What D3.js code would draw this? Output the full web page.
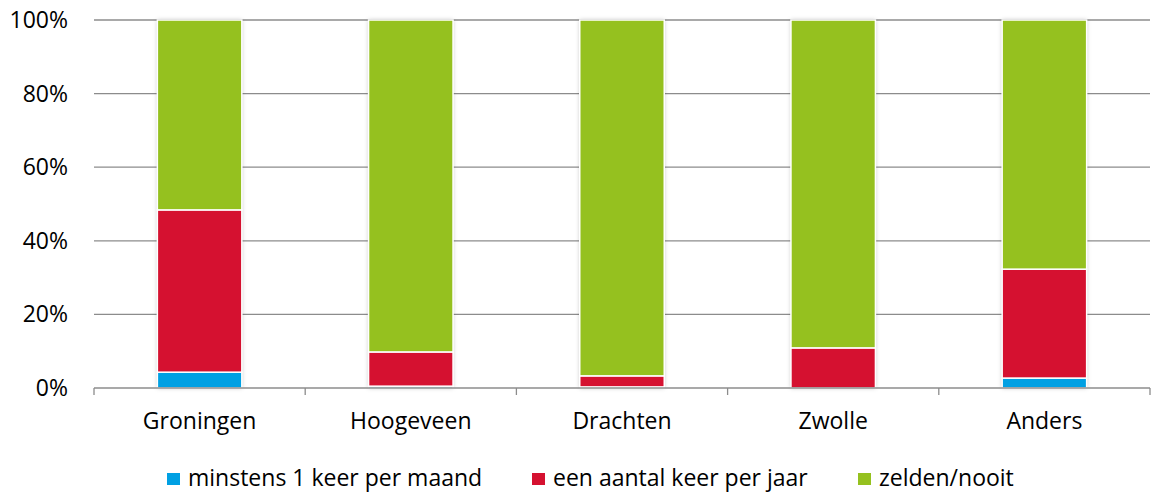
<!DOCTYPE html>
<html><head><meta charset="utf-8">
<script src="https://cdn.jsdelivr.net/npm/d3@7/dist/d3.min.js"></script>
<style>body{margin:0;background:#fff}svg{display:block}text{font-family:"Open Sans",sans-serif;fill:#000}</style>
</head><body><svg id="c" width="1151" height="494"></svg>
<script>
const categories = ["Groningen","Hoogeveen","Drachten","Zwolle","Anders"];
const seriesNames = ["minstens 1 keer per maand","een aantal keer per jaar","zelden/nooit"];
const monthly = [4.3, 0.5, 0.3, 0, 2.7];
const yearly = [44.1, 9.3, 3.0, 10.9, 29.6];
const rarely = [51.6, 90.2, 96.7, 89.1, 67.7];
const yTicks = [0, 20, 40, 60, 80, 100];
const colors = ["#00A0E3", "#D51130", "#95C11F"];

const svg = d3.select("#c");
const m = {l: 94, r: 1150, t: 20, b: 388};
const x = d3.scaleBand().domain(categories).range([m.l, m.r]).paddingInner(0.6).paddingOuter(0.3);
const y = d3.scaleLinear().domain([0, 100]).range([m.b, m.t]);
const FS = 23;

const defs = svg.append("defs");
const f = defs.append("filter").attr("id","sh").attr("x","-20%").attr("y","-5%").attr("width","140%").attr("height","110%");
f.append("feDropShadow").attr("dx",0).attr("dy",0).attr("stdDeviation",2).attr("flood-color","#000").attr("flood-opacity",0.25);

svg.append("g").selectAll("line").data(yTicks.filter(d=>d>0)).join("line")
  .attr("x1", m.l).attr("x2", m.r).attr("y1", d=>y(d)).attr("y2", d=>y(d))
  .attr("stroke","#8c8c8c").attr("stroke-width",1.3);

svg.append("g").selectAll("text").data(yTicks).join("text")
  .attr("x", 68).attr("y", d=>y(d)).attr("dy","0.35em").attr("text-anchor","end")
  .attr("font-size", FS).text(d=>d+"%");

const data = categories.map((c,i)=>({c, v:[monthly[i], yearly[i], rarely[i]]}));
const g = svg.append("g");
data.forEach(d=>{
  const bx = x(d.c), bw = x.bandwidth();
  g.append("rect").attr("x",bx).attr("y",y(100)).attr("width",bw).attr("height",y(0)-y(100))
    .attr("fill","#fff").attr("filter","url(#sh)");
  let acc = 0;
  d.v.forEach((v,k)=>{
    if (v>0) {
      g.append("rect").attr("x",bx).attr("y",y(acc+v)).attr("width",bw).attr("height",y(acc)-y(acc+v))
        .attr("fill",colors[k]).attr("stroke","#fff").attr("stroke-width",1.5);
    }
    acc += v;
  });
});

const ax = svg.append("g");
ax.append("line").attr("x1",m.l).attr("x2",m.r).attr("y1",y(0)).attr("y2",y(0)).attr("stroke","#8c8c8c").attr("stroke-width",1.5);
const bounds = categories.map((c,i)=> i===0 ? m.l : (x(categories[i-1])+x.bandwidth()/2 + x(c)+x.bandwidth()/2)/2).concat([m.r]);
ax.selectAll("line.t").data(bounds).join("line").attr("class","t")
  .attr("x1",d=>d).attr("x2",d=>d).attr("y1",y(0)).attr("y2",y(0)+7).attr("stroke","#8c8c8c").attr("stroke-width",1.3);
ax.selectAll("text").data(categories).join("text")
  .attr("x",d=>x(d)+x.bandwidth()/2).attr("y",421).attr("dy","0.35em").attr("text-anchor","middle")
  .attr("font-size",FS).text(d=>d);

const legX = [167, 532, 858];
const lg = svg.append("g");
seriesNames.forEach((s,i)=>{
  lg.append("rect").attr("x",legX[i]).attr("y",473).attr("width",13).attr("height",12).attr("fill",colors[i]);
  lg.append("text").attr("x",legX[i]+21).attr("y",486).attr("font-size",FS).text(s);
});
</script></body></html>
